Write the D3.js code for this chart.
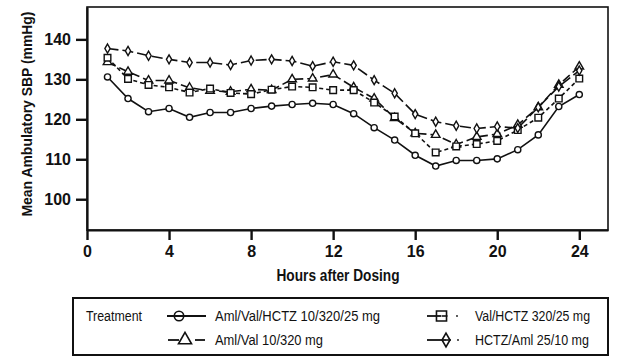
<!DOCTYPE html>
<html><head><meta charset="utf-8">
<script src="https://cdn.jsdelivr.net/npm/d3@7"></script>
<style>body{margin:0;background:#fff}svg{display:block}</style>
</head><body>
<svg id="c" width="638" height="364"></svg>
<script>
const hours = [1,2,3,4,5,6,7,8,9,10,11,12,13,14,15,16,17,18,19,20,21,22,23,24];
const amlValHctz = [130.6,125.2,121.9,122.7,120.5,121.7,121.7,122.7,123.3,123.7,124.0,123.7,121.4,117.9,114.8,111.0,108.3,109.7,109.7,110.1,112.4,116.1,123.2,126.2];
const amlVal = [134.3,131.9,129.7,129.7,127.9,127.1,126.9,127.5,127.3,130.0,130.2,131.2,128.0,125.2,120.3,116.5,116.1,113.7,115.6,116.3,118.6,123.0,128.6,133.2];
const valHctz = [135.4,130.1,128.6,128.0,126.7,127.7,126.6,126.3,127.4,128.2,128.0,127.3,127.3,124.2,120.7,116.5,111.7,113.2,113.8,114.6,117.3,120.4,125.2,130.2];
const hctzAml = [137.7,137.1,135.9,135.0,134.2,134.2,133.6,134.7,135.0,134.6,133.3,134.4,133.5,129.8,126.5,121.3,119.4,118.4,117.7,118.2,117.8,123.0,128.2,132.2];
const seriesNames = ["Aml/Val/HCTZ 10/320/25 mg","Aml/Val 10/320 mg","Val/HCTZ 320/25 mg","HCTZ/Aml 25/10 mg"];
const xTicks = [0,4,8,12,16,20,24];
const yTicks = [100,110,120,130,140];

const series = [
  {name: seriesNames[0], values: amlValHctz, sym: d3.symbolCircle, size: 30, dash: null},
  {name: seriesNames[1], values: amlVal, sym: d3.symbolTriangle, size: 32, dash: "9,4"},
  {name: seriesNames[2], values: valHctz, sym: d3.symbolSquare, size: 44, dash: "4,3"},
  {name: seriesNames[3], values: hctzAml, sym: d3.symbolDiamond, size: 24, dash: "11,4"}
];

const svg = d3.select("#c");
const L = 87, R = 608, T = 7, B = 230;
const x = d3.scaleLinear().domain([0, 25.4]).range([L, R]);
const y = d3.scaleLinear().domain([92.3, 148.1]).range([B, T]);
const FONT = "'Liberation Sans',Arial,Helvetica,sans-serif";

// frame
svg.append("rect").attr("x", L).attr("y", T).attr("width", R - L).attr("height", B - T)
  .attr("fill", "none").attr("stroke", "#111").attr("stroke-width", 1.6);

// axes
const xAxis = d3.axisBottom(x).tickValues(xTicks).tickSize(10).tickPadding(6).tickSizeOuter(0);
const gx = svg.append("g").attr("transform", `translate(0,${B})`).call(xAxis);
const yAxis = d3.axisLeft(y).tickValues(yTicks).tickSize(11).tickPadding(5).tickSizeOuter(0);
const gy = svg.append("g").attr("transform", `translate(${L},0)`).call(yAxis);
[gx, gy].forEach(g => {
  g.select(".domain").attr("stroke", "#111").attr("stroke-width", 2.2);
  g.selectAll(".tick line").attr("stroke", "#111").attr("stroke-width", 2.4);
  g.selectAll(".tick text").attr("fill", "#111").style("font-family", FONT)
    .style("font-weight", "bold").style("font-size", "16px");
});

// axis titles
svg.append("text").attr("x", 338).attr("y", 281).attr("text-anchor", "middle")
  .attr("textLength", 123).attr("lengthAdjust", "spacingAndGlyphs")
  .style("font-family", FONT).style("font-weight", "bold").style("font-size", "16px")
  .attr("fill", "#111").text("Hours after Dosing");
svg.append("text").attr("transform", "translate(32,114) rotate(-90)").attr("text-anchor", "middle")
  .attr("textLength", 205).attr("lengthAdjust", "spacingAndGlyphs")
  .style("font-family", FONT).style("font-weight", "bold").style("font-size", "14.5px")
  .attr("fill", "#111").text("Mean Ambulatory SBP (mmHg)");

// lines and markers
const line = d3.line().x((d, i) => x(hours[i])).y(d => y(d));
series.forEach(s => {
  svg.append("path").datum(s.values).attr("d", line).attr("fill", "none")
    .attr("stroke", "#111").attr("stroke-width", 1.6)
    .attr("stroke-dasharray", s.dash);
});
series.forEach(s => {
  svg.append("g").selectAll("path").data(s.values).join("path")
    .attr("transform", (d, i) => `translate(${x(hours[i])},${y(d)})`)
    .attr("d", d3.symbol().type(s.sym).size(s.size))
    .attr("fill", "#fff").attr("stroke", "#111").attr("stroke-width", 1.4);
});

// legend
svg.append("rect").attr("x", 73).attr("y", 298).attr("width", 535).attr("height", 57)
  .attr("fill", "#fff").attr("stroke", "#111").attr("stroke-width", 2);
svg.append("text").attr("x", 86).attr("y", 321).attr("textLength", 56).attr("lengthAdjust", "spacingAndGlyphs")
  .style("font-family", FONT).style("font-size", "14px").attr("fill", "#111").text("Treatment");
const rowY = [316, 340];
const textW = [165, 108, 115, 114];
const legLines = [
  [[167, 206]],
  [[168, 179], [195, 205]],
  [[427, 441]],
  [[427, 446]]
];
const legSym = [179, 185, 441.5, 446];
const legDot = [null, null, 457, 458];
series.forEach((s, i) => {
  const cy = rowY[i % 2];
  const g = svg.append("g");
  legLines[i].forEach(([a, b]) => {
    g.append("line").attr("x1", a).attr("x2", b).attr("y1", cy).attr("y2", cy)
      .attr("stroke", "#111").attr("stroke-width", 1.8);
  });
  g.append("path").attr("transform", `translate(${legSym[i]},${cy})`)
    .attr("d", d3.symbol().type(s.sym).size(s.size * 2.3))
    .attr("fill", "none").attr("stroke", "#111").attr("stroke-width", 1.6);
  if (i >= 2) {
    g.append("line").attr("x1", legSym[i]).attr("x2", legSym[i] + (i === 2 ? 6 : 5)).attr("y1", cy).attr("y2", cy)
      .attr("stroke", "#111").attr("stroke-width", 1.6);
    g.append("circle").attr("cx", legDot[i]).attr("cy", cy).attr("r", 0.9).attr("fill", "#111");
  }
  svg.append("text").attr("x", i < 2 ? 215 : 475).attr("y", cy + 5)
    .attr("textLength", textW[i]).attr("lengthAdjust", "spacingAndGlyphs")
    .style("font-family", FONT).style("font-size", "14px").attr("fill", "#111").text(s.name);
});
</script>
</body></html>
